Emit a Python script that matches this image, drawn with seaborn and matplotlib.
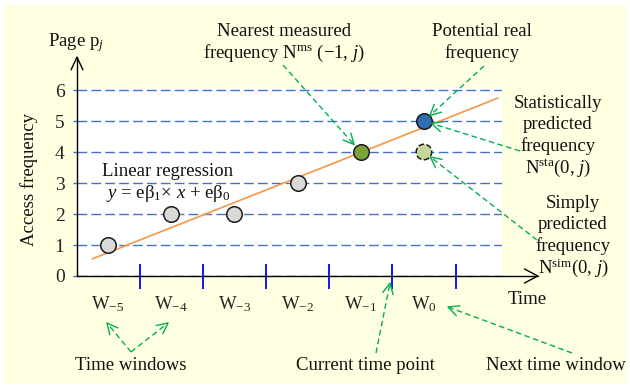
import math
import matplotlib
matplotlib.use("Agg")
import matplotlib.pyplot as plt
import seaborn as sns
from matplotlib.lines import Line2D
from matplotlib.patches import Rectangle

# data
windows = [-5, -4, -3, -2, -1, 0]
window_labels = ["W$_{\\mathrm{-5}}$", "W$_{\\mathrm{-4}}$", "W$_{\\mathrm{-3}}$",
                 "W$_{\\mathrm{-2}}$", "W$_{\\mathrm{-1}}$", "W$_{\\mathrm{0}}$"]
measured_win = [-5, -4, -3, -2]
measured_freq = [1, 2, 2, 3]
nearest_win, nearest_freq = [-1], [4]
potential_win, potential_freq = [0], [5]
simple_win, simple_freq = [0], [4]
reg_x = [-5.25, 1.17]
reg_y = [0.55, 5.74]
freq_ticks = [0, 1, 2, 3, 4, 5, 6]

W, H = 630, 388
GREEN = "#00B050"

sns.set_style("ticks")
plt.rcParams["font.family"] = ["Liberation Serif", "DejaVu Serif"]
plt.rcParams["mathtext.fontset"] = "custom"
plt.rcParams["mathtext.rm"] = "Liberation Serif"
plt.rcParams["mathtext.it"] = "Liberation Serif:italic"
plt.rcParams["mathtext.bf"] = "Liberation Serif:bold"

fig = plt.figure(figsize=(W / 100, H / 100), dpi=100, facecolor="white")
fig.add_artist(Rectangle((4 / W, 4 / H), 622 / W, 380 / H, transform=fig.transFigure,
                         facecolor="#FFFFE1", edgecolor="none", zorder=-5))

# plot area = white box
ax = fig.add_axes([77 / W, (H - 276) / H, 425 / W, 6.05 * 31 / H], facecolor="white")
ax.set_xlim(-5.49, 1.235)
ax.set_ylim(0, 6.05)
for s in ax.spines.values():
    s.set_visible(False)


def fr(px, py):
    return px / W, 1 - py / H


def data_px(x, y):
    d = ax.transData.transform((x, y))
    return d[0], H - d[1]


def arrow(start, end, color, ls, lw=1.0, head=12, ang=26, gap=0.0, z=6):
    x0, y0 = start
    x1, y1 = end
    d = math.hypot(x1 - x0, y1 - y0)
    ux, uy = (x1 - x0) / d, (y1 - y0) / d
    x1, y1 = x1 - ux * gap, y1 - uy * gap
    a, b = fr(x0, y0), fr(x1, y1)
    fig.add_artist(Line2D([a[0], b[0]], [a[1], b[1]], transform=fig.transFigure,
                          color=color, lw=lw, ls=ls, zorder=z))
    pts = []
    for sgn in (1, -1):
        t = math.radians(ang) * sgn
        rx = math.cos(t) * -ux - math.sin(t) * -uy
        ry = math.sin(t) * -ux + math.cos(t) * -uy
        pts.append(fr(x1 + head * rx, y1 + head * ry))
    tip = fr(x1, y1)
    fig.add_artist(Line2D([pts[0][0], tip[0], pts[1][0]], [pts[0][1], tip[1], pts[1][1]],
                          transform=fig.transFigure, color=color, lw=lw, ls="-", zorder=z))


# grid + ticks
ax.set_yticks(freq_ticks)
ax.set_yticklabels([str(v) for v in freq_ticks])
ax.yaxis.grid(True, color="#4472C4", ls=(0, (7, 3)), lw=1.0)
ax.tick_params(axis="y", left=True, length=3, width=1.0, color="#4472C4", labelsize=14, pad=6)
ax.set_xticks([w + 0.5 for w in windows])
ax.set_xticklabels([])
ax.set_xticks(windows, minor=True)
ax.set_xticklabels(window_labels, minor=True)
ax.tick_params(axis="x", which="major", bottom=True, direction="inout", length=18,
               width=1.3, color="#0000FF")
ax.tick_params(axis="x", which="minor", bottom=True, length=0, pad=13, labelsize=13.5)

# regression line and points
sns.lineplot(x=reg_x, y=reg_y, ax=ax, color="#F79646", lw=1.2, zorder=3)
sns.scatterplot(x=measured_win, y=measured_freq, ax=ax, s=125, color="#D9D9D9",
                edgecolor="#1A1A1A", linewidth=1.1, zorder=5)
sns.scatterplot(x=nearest_win, y=nearest_freq, ax=ax, s=125, color="#7AA43A",
                edgecolor="#1A1A1A", linewidth=1.1, zorder=5)
sns.scatterplot(x=potential_win, y=potential_freq, ax=ax, s=125, color="#2E6DB4",
                edgecolor="#1A1A1A", linewidth=1.1, zorder=5)
sns.scatterplot(x=simple_win, y=simple_freq, ax=ax, s=125, color="#C4D79B",
                edgecolor="#1A1A1A", linewidth=1.1, linestyle="--", zorder=5)

# axes drawn as arrows
origin = data_px(-5.49, 0)
arrow(origin, data_px(1.80, 0), "black", "-", lw=1.0, head=15, ang=28, z=7)
arrow(origin, data_px(-5.49, 7.06), "black", "-", lw=1.0, head=14, ang=25, z=7)

fs = 13.5
def label(px, py, s, **kw):
    x, y = fr(px, py)
    fig.text(x, y, s, ha="center", va="center", fontsize=fs, color="#111111", **kw)

label(76, 43, "Page p$_{j}$")
label(29, 179, "Access frequency", rotation=90)
label(527, 299, "Time")
label(168, 172, "Linear regression")
label(168, 193, "$y$ = eβ$_{1}$× $x$ + eβ$_{0}$")
label(284, 31, "Nearest measured")
label(284, 53, "frequency N$^{\\mathrm{ms}}$ (−1, $j$)")
label(482, 31, "Potential real")
label(482, 53, "frequency")
for i, t in enumerate(["Statistically", "predicted", "frequency", "N$^{\\mathrm{sta}}$(0, $j$)"]):
    label(558, 103 + 21.7 * i, t)
for i, t in enumerate(["Simply", "predicted", "frequency", "N$^{\\mathrm{sim}}$(0, $j$)"]):
    label(573, 203 + 21.7 * i, t)
label(131, 365, "Time windows")
label(365, 365, "Current time point")
label(556, 365, "Next time window")

# green dashed callouts
gls = (0, (4, 2.5))
arrow((283, 65), data_px(nearest_win[0], nearest_freq[0]), GREEN, gls, gap=10)
arrow((484, 66), data_px(potential_win[0], potential_freq[0]), GREEN, gls, gap=8)
arrow((520, 151), data_px(potential_win[0], potential_freq[0]), GREEN, gls, gap=8)
arrow((537, 240), data_px(simple_win[0], simple_freq[0]), GREEN, gls, gap=8)
arrow((131, 352), (107, 323), GREEN, gls)
arrow((131, 352), (168, 323), GREEN, gls)
arrow((376, 353), (390, 283), GREEN, gls)
arrow((572, 353), (448, 307), GREEN, gls)

fig.savefig("out.png", dpi=100)
